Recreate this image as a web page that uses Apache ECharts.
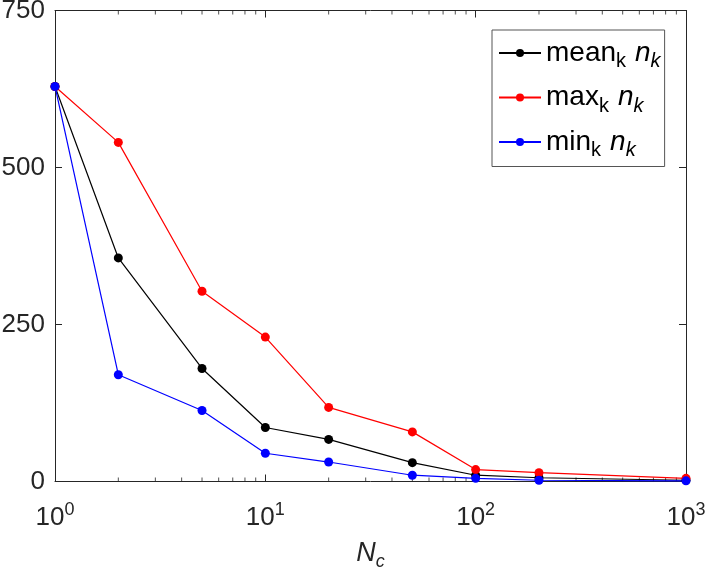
<!DOCTYPE html>
<html><head><meta charset="utf-8">
<script src="https://cdn.jsdelivr.net/npm/echarts@6/dist/echarts.min.js"></script>
<style>html,body{margin:0;padding:0;background:#fff}#c{width:706px;height:571px}</style>
</head><body><div id="c"></div>
<script>
const nc = [1, 2, 5, 10, 20, 50, 100, 200, 1000];
const meanK = [629, 356, 180, 86, 67, 30, 10, 6, 2];
const maxK = [629, 540, 303, 230, 118, 79, 19, 14, 5];
const minK = [629, 170, 113, 45, 31, 10, 5, 2, 1];
const yTicks = [0, 250, 500, 750];
const minorX = [2,3,4,5,6,7,8,9,20,30,40,50,60,70,80,90,200,300,400,500,600,700,800,900];

const font = "'Liberation Sans', Arial, sans-serif";
const axisColor = '#262626';

function pair(xs, ys){ return xs.map((x,i)=>[x, ys[i]]); }

const chart = echarts.init(document.getElementById('c'));
const baseX = {
  type: 'log', logBase: 10, min: 1, max: 1000,
  axisLine: {show: true, onZero: false, lineStyle: {color: axisColor, width: 1}},
  axisTick: {show: true, inside: true, length: 7, lineStyle: {color: axisColor}},
  splitLine: {show: false}, minorTick: {show: false}
};
const baseY = {
  type: 'value', min: 0, max: 750, interval: 250,
  axisLine: {show: true, lineStyle: {color: axisColor, width: 1}},
  axisTick: {show: true, inside: true, length: 7, lineStyle: {color: axisColor}},
  splitLine: {show: false}
};
function lineSeries(name, data, color){
  return {name, type: 'line', data, color, symbol: 'circle', symbolSize: 9,
    lineStyle: {width: 1.2, color}, itemStyle: {color}, clip: false, z: 5};
}
const lbl = {a: {fontSize: 28, fontFamily: font, color: '#000'},
  s: {fontSize: 20, fontFamily: font, color: '#000', padding: [17,9,0,0]},
  i: {fontSize: 28, fontFamily: font, fontStyle: 'italic', color: '#000'},
  si: {fontSize: 20, fontFamily: font, fontStyle: 'italic', color: '#000', padding: [17,0,0,0]}};
const legendNames = {mean: 'mean', max: 'max', min: 'min'};

chart.setOption({
  animation: false,
  backgroundColor: '#fff',
  grid: {left: 55, right: 20, top: 10.5, bottom: 89.5, containLabel: false, outerBoundsMode: 'none'},
  xAxis: [
    Object.assign({}, baseX, {position: 'bottom',
      name: '{n|N}{c|c}', nameLocation: 'middle', nameGap: 55,
      nameTextStyle: {fontFamily: font, rich: {
        n: {fontSize: 27, fontStyle: 'italic', fontFamily: font, color: axisColor},
        c: {fontSize: 18, fontStyle: 'italic', fontFamily: font, color: axisColor, padding: [16,0,0,0]}}},
      axisLabel: {margin: 20, fontFamily: font, formatter: v => '{b|10}{p|' + Math.round(Math.log10(v)) + '}',
        rich: {b: {fontSize: 26, fontFamily: font, color: axisColor},
               p: {fontSize: 18, fontFamily: font, color: axisColor, padding: [0,0,14,0]}}}}),
    Object.assign({}, baseX, {position: 'top', axisLabel: {show: false}})
  ],
  yAxis: [
    Object.assign({}, baseY, {position: 'left',
      axisLabel: {margin: 10, fontSize: 26, fontFamily: font, color: axisColor}}),
    Object.assign({}, baseY, {position: 'right', axisLabel: {show: false}})
  ],
  legend: {
    orient: 'vertical', left: 492, top: 30,
    padding: [9, 4, 6, 6], itemGap: 12,
    itemWidth: 42, itemHeight: 10,
    backgroundColor: '#fff', borderColor: '#555', borderWidth: 1, borderRadius: 0,
    data: ['mean', 'max', 'min'],
    formatter: n => '{a|' + legendNames[n] + '}{s|k}{i|n}{si|k}',
    textStyle: {rich: lbl, fontSize: 28, fontFamily: font}
  },
  series: [
    lineSeries('mean', pair(nc, meanK), '#000000'),
    lineSeries('max', pair(nc, maxK), '#ff0000'),
    lineSeries('min', pair(nc, minK), '#0000ff'),
    {type: 'scatter', silent: true, data: minorX.map(x => [x, 0]), symbol: 'rect',
     symbolSize: [1, 4], symbolOffset: [0, -2], itemStyle: {color: axisColor}, clip: false, z: 1},
    {type: 'scatter', silent: true, data: minorX.map(x => [x, 750]), symbol: 'rect',
     symbolSize: [1, 4], symbolOffset: [0, 2], itemStyle: {color: axisColor}, clip: false, z: 1}
  ]
});
</script></body></html>
